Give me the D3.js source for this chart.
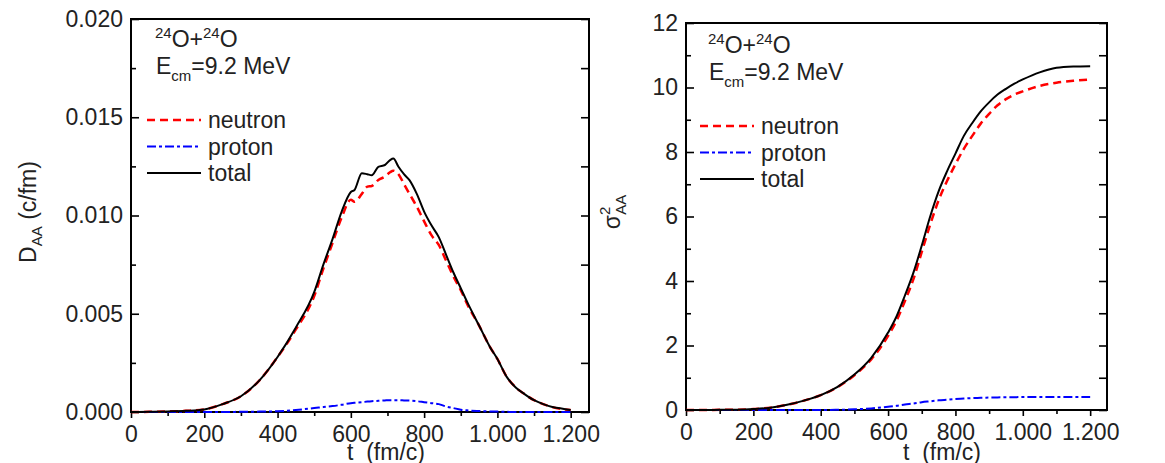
<!DOCTYPE html>
<html>
<head>
<meta charset="utf-8">
<script src="https://cdn.jsdelivr.net/npm/d3@7"></script>
<style>
  html, body { margin: 0; padding: 0; background: #fff; }
  svg { display: block; font-family: "Liberation Sans", Arial, sans-serif; }
  text { fill: #222; }
</style>
</head>
<body>
<svg id="chart" width="1165" height="463"></svg>
<script>
// ---------------- DATA ----------------
// Left panel: D_AA (c/fm) vs t (fm/c)
const timeL = [0, 50, 100, 150, 200, 250, 300, 350, 400, 450, 500, 525, 550, 575, 600, 610, 630, 645, 657, 675, 693, 707, 716, 730, 745, 760, 780, 800, 820, 840, 860, 880, 900, 920, 950, 980, 1000, 1025, 1050, 1075, 1100, 1125, 1150, 1175, 1200];
const totalD = [0, 0.00001, 0.00003, 0.00006, 0.00013, 0.0004, 0.0008, 0.0016, 0.0028, 0.0043, 0.0061, 0.0075, 0.0088, 0.0102, 0.0112, 0.0113, 0.01215, 0.0121, 0.01205, 0.01248, 0.01257, 0.01282, 0.0129, 0.01248, 0.0121, 0.0118, 0.0111, 0.0102, 0.0095, 0.0089, 0.0080, 0.0071, 0.0063, 0.0055, 0.0044, 0.0033, 0.0027, 0.0018, 0.00125, 0.0009, 0.0006, 0.0004, 0.00025, 0.00018, 0.0001];
const neutronD = [0, 0.00001, 0.00003, 0.00006, 0.00013, 0.0004, 0.0008, 0.0016, 0.0028, 0.0042, 0.0059, 0.0073, 0.0086, 0.0099, 0.0108, 0.0107, 0.0111, 0.01147, 0.0115, 0.01181, 0.01198, 0.0122, 0.01228, 0.0121, 0.0116, 0.0111, 0.01045, 0.0097, 0.0090, 0.0085, 0.0077, 0.0069, 0.0062, 0.0054, 0.0044, 0.0033, 0.0027, 0.0018, 0.00125, 0.0009, 0.0006, 0.0004, 0.00025, 0.00015, 0.0001];
const protonD = [0, 0, 0, 0, 0, 0, 0.00001, 0.00002, 0.00004, 0.0001, 0.0002, 0.00025, 0.0003, 0.00037, 0.00045, 0.00047, 0.0005, 0.00053, 0.00055, 0.00057, 0.00059, 0.0006, 0.0006, 0.0006, 0.00059, 0.00058, 0.00055, 0.0005, 0.00045, 0.0004, 0.00028, 0.0002, 0.00012, 0.00008, 0.00005, 0.00003, 0.00002, 0.00001, 0, 0, 0, 0, 0, 0, 0];

// Right panel: sigma^2_AA vs t (fm/c)
const timeR = [0, 50, 100, 150, 200, 250, 300, 350, 400, 450, 500, 550, 600, 625, 650, 675, 700, 725, 750, 775, 800, 825, 850, 875, 900, 925, 950, 975, 1000, 1050, 1100, 1150, 1200];
const totalS = [0, 0, 0.005, 0.01, 0.03, 0.07, 0.16, 0.29, 0.46, 0.72, 1.1, 1.62, 2.4, 2.9, 3.55, 4.25, 5.1, 6.0, 6.78, 7.4, 7.95, 8.5, 8.9, 9.26, 9.54, 9.78, 9.96, 10.12, 10.25, 10.47, 10.61, 10.65, 10.66];
const neutronS = [0, 0, 0.005, 0.01, 0.03, 0.07, 0.16, 0.29, 0.46, 0.71, 1.08, 1.57, 2.3, 2.77, 3.38, 4.05, 4.9, 5.75, 6.5, 7.1, 7.62, 8.1, 8.5, 8.88, 9.18, 9.45, 9.64, 9.78, 9.88, 10.05, 10.15, 10.21, 10.25];
const protonS = [0, 0, 0, 0, 0, 0, 0, 0, 0, 0.005, 0.02, 0.05, 0.1, 0.13, 0.17, 0.2, 0.24, 0.27, 0.3, 0.32, 0.34, 0.355, 0.37, 0.378, 0.385, 0.39, 0.395, 0.398, 0.4, 0.4, 0.4, 0.4, 0.4];

// Tick labels
const xTickValues = [0, 200, 400, 600, 800, 1000, 1200];
const xTickLabels = ["0", "200", "400", "600", "800", "1.000", "1.200"];
const yTickValuesL = [0, 0.005, 0.010, 0.015, 0.020];
const yTickLabelsL = ["0.000", "0.005", "0.010", "0.015", "0.020"];
const yTickValuesR = [0, 2, 4, 6, 8, 10, 12];
const yTickLabelsR = ["0", "2", "4", "6", "8", "10", "12"];
const seriesNames = ["neutron", "proton", "total"];

// ---------------- DRAW ----------------
const svg = d3.select("#chart");
const FS = 23;
const FSS = 15;

const styles = {
  neutron: { color: "#ff0000", dash: "8,5", width: 2.5 },
  proton:  { color: "#0000ff", dash: "9,3,3,3", width: 2 },
  total:   { color: "#000000", dash: null, width: 2 }
};

function panel(cfg) {
  const g = svg.append("g");
  const x = d3.scaleLinear().domain([0, 1250]).range([cfg.x0, cfg.x1]);
  const y = d3.scaleLinear().domain(cfg.yDomain).range([cfg.yBot, cfg.yTop]);

  // bottom axis (outward ticks)
  const xMinor = d3.range(0, 1250, 100).filter(v => v % 200 !== 0);
  g.append("g").attr("transform", `translate(0,${cfg.yBot})`)
    .call(d3.axisBottom(x).tickValues(xTickValues).tickSize(6).tickPadding(8)
      .tickFormat((d, i) => xTickLabels[i]));
  g.append("g").attr("transform", `translate(0,${cfg.yBot})`)
    .call(d3.axisBottom(x).tickValues(xMinor).tickSize(4).tickFormat(""));

  // left axis (inward ticks)
  g.append("g").attr("transform", `translate(${cfg.x0},0)`)
    .call(d3.axisLeft(y).tickValues(cfg.yTicks).tickSize(-8).tickPadding(8)
      .tickFormat((d, i) => cfg.yLabels[i]));
  g.append("g").attr("transform", `translate(${cfg.x0},0)`)
    .call(d3.axisLeft(y).tickValues(cfg.yMinor).tickSize(-5).tickFormat(""));
  // right axis (inward ticks)
  g.append("g").attr("transform", `translate(${cfg.x1},0)`)
    .call(d3.axisRight(y).tickValues(cfg.yTicks.concat(cfg.yMinor)).tickSize(-8).tickFormat(""));

  g.selectAll(".domain").remove();
  g.selectAll(".tick line").attr("stroke", "#000").attr("stroke-width", 1.6);
  g.selectAll(".tick text").attr("font-size", FS).attr("fill", "#222")
    .attr("font-family", '"Liberation Sans", Arial, sans-serif');

  // frame
  g.append("rect").attr("x", cfg.x0).attr("y", cfg.yTop)
    .attr("width", cfg.x1 - cfg.x0).attr("height", cfg.yBot - cfg.yTop)
    .attr("fill", "none").attr("stroke", "#000").attr("stroke-width", 2);

  // curves
  const line = d3.line().x(d => x(d[0])).y(d => y(d[1])).curve(d3.curveMonotoneX);
  cfg.series.forEach(s => {
    const st = styles[s.name];
    g.append("path").datum(cfg.time.map((t, i) => [t, s.values[i]]))
      .attr("d", line).attr("fill", "none")
      .attr("stroke", st.color).attr("stroke-width", st.width)
      .attr("stroke-dasharray", st.dash)
      .attr("stroke-linejoin", "round");
  });

  // annotation
  const t1 = g.append("text").attr("x", cfg.annX).attr("y", cfg.annY).attr("font-size", FS);
  t1.append("tspan").attr("font-size", FSS).attr("dy", -9).text("24");
  t1.append("tspan").attr("dy", 9).text("O+");
  t1.append("tspan").attr("font-size", FSS).attr("dy", -9).text("24");
  t1.append("tspan").attr("dy", 9).text("O");
  const t2 = g.append("text").attr("x", cfg.annX + 1).attr("y", cfg.annY + 27).attr("font-size", FS);
  t2.append("tspan").text("E");
  t2.append("tspan").attr("font-size", FSS).attr("dy", 7).text("cm");
  t2.append("tspan").attr("dy", -7).text("=9.2 MeV");

  // legend
  seriesNames.forEach((n, i) => {
    const st = styles[n];
    const ly = cfg.legY + i * 26.5;
    g.append("line").attr("x1", cfg.legX).attr("x2", cfg.legX + 54)
      .attr("y1", ly).attr("y2", ly)
      .attr("stroke", st.color).attr("stroke-width", st.width)
      .attr("stroke-dasharray", st.dash);
    g.append("text").attr("x", cfg.legX + 61).attr("y", ly + 8)
      .attr("font-size", FS).text(n);
  });

  // x title
  g.append("text").attr("x", cfg.xTitleX).attr("y", 460).attr("font-size", FS)
    .attr("xml:space", "preserve").text("t  (fm/c)");
  return { g, x, y };
}

panel({
  x0: 131, x1: 589, yTop: 19, yBot: 412,
  yDomain: [0, 0.020], yTicks: yTickValuesL, yLabels: yTickLabelsL,
  yMinor: [0.0025, 0.0075, 0.0125, 0.0175],
  time: timeL,
  series: [{ name: "neutron", values: neutronD }, { name: "proton", values: protonD }, { name: "total", values: totalD }],
  annX: 155, annY: 47, legX: 147, legY: 120, xTitleX: 347
});

panel({
  x0: 686, x1: 1107, yTop: 23, yBot: 410,
  yDomain: [0, 12], yTicks: yTickValuesR, yLabels: yTickLabelsR,
  yMinor: [1, 3, 5, 7, 9, 11],
  time: timeR,
  series: [{ name: "neutron", values: neutronS }, { name: "proton", values: protonS }, { name: "total", values: totalS }],
  annX: 708, annY: 53, legX: 700, legY: 126, xTitleX: 903
});

// y titles
const yt1 = svg.append("text").attr("transform", "translate(36,212) rotate(-90)")
  .attr("text-anchor", "middle").attr("font-size", FS);
yt1.append("tspan").text("D");
yt1.append("tspan").attr("font-size", FSS).attr("dy", 6).text("AA");
yt1.append("tspan").attr("dy", -6).text(" (c/fm)");

const yt2 = svg.append("text").attr("transform", "translate(620,212) rotate(-90)")
  .attr("text-anchor", "middle").attr("font-size", FS);
yt2.append("tspan").text("σ");
yt2.append("tspan").attr("font-size", FSS).attr("dy", -10).text("2");
yt2.append("tspan").attr("font-size", FSS).attr("dx", -8).attr("dy", 16).text("AA");
</script>
</body>
</html>
